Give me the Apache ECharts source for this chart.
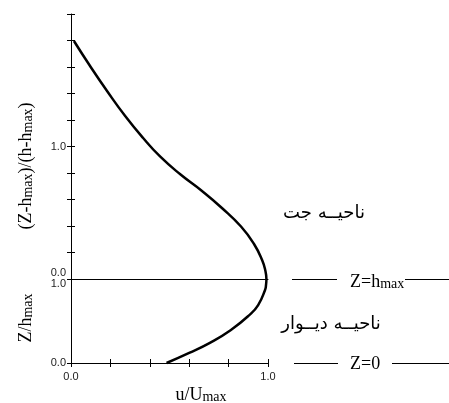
<!DOCTYPE html>
<html>
<head>
    <meta charset="UTF-8">
    <script src="https://cdn.jsdelivr.net/npm/echarts@6/dist/echarts.min.js"></script>
</head>
<body style="margin:0">
<div id="chart" style="width:449px;height:403px"></div>
<script type="text/javascript">
    // jet region (above h_max): u/Umax vs (Z-hmax)/(h-hmax)
    var jetU = [0.015, 0.096, 0.183, 0.274, 0.365, 0.452, 0.553, 0.665, 0.766, 0.863, 0.929, 0.970, 0.987, 0.992];
    var jetY = [1.796, 1.609, 1.419, 1.232, 1.066, 0.925, 0.792, 0.664, 0.536, 0.396, 0.264, 0.143, 0.060, 0];
    // wall region (below h_max): u/Umax vs Z/hmax
    var wallU = [0.992, 0.99, 0.985, 0.95, 0.905, 0.81, 0.705, 0.60, 0.485];
    var wallZ = [1.0, 0.93, 0.87, 0.69, 0.57, 0.39, 0.24, 0.12, 0];

    var jetLabel = 'ناحیــه جت';
    var wallLabel = 'ناحیــه دیــوار';

    var jetData = [], wallData = [];
    for (var i = 0; i < jetU.length; i++) jetData.push([jetU[i], jetY[i]]);
    for (var j = 0; j < wallU.length; j++) wallData.push([wallU[j], wallZ[j]]);

    var lbl = {fontFamily: 'Liberation Sans', fontSize: 11, color: '#222'};
    var serif = {fontFamily: 'Liberation Serif', fontSize: 18, fill: '#000'};
    var sub = {fontFamily: 'Liberation Serif', fontSize: 14, fill: '#000', verticalAlign: 'bottom'};
    var blackLine = {lineStyle: {color: '#000', width: 1}};

    var myChart = echarts.init(document.getElementById('chart'));
    var option = {
        animation: false,
        grid: [
            {left: 71, right: 181, top: 14, height: 265},
            {left: 71, right: 181, top: 279, height: 84}
        ],
        xAxis: [
            {gridIndex: 0, type: 'value', min: 0, max: 1, axisLine: blackLine,
                axisTick: {show: false}, axisLabel: {show: false}, splitLine: {show: false}},
            {gridIndex: 1, type: 'value', min: 0, max: 1, interval: 0.2, axisLine: blackLine,
                axisTick: {length: 4, lineStyle: {color: '#000'}},
                axisLabel: Object.assign({margin: 8, formatter: function (v) {
                    if (Math.abs(v) < 1e-6) return '0.0';
                    if (Math.abs(v - 1) < 1e-6) return '1.0';
                    return '';
                }}, lbl),
                splitLine: {show: false}},
            {gridIndex: 1, type: 'value', min: 0, max: 1, interval: 0.2, position: 'bottom',
                axisLine: {show: false}, axisTick: {inside: true, length: 4, lineStyle: {color: '#000'}},
                axisLabel: {show: false}, splitLine: {show: false}}
        ],
        yAxis: [
            {gridIndex: 0, type: 'value', min: 0, max: 2, interval: 0.2, position: 'left', offset: 0,
                axisLine: blackLine, axisTick: {length: 4, lineStyle: {color: '#000'}},
                axisLabel: Object.assign({margin: 5, formatter: function (v) {
                    if (Math.abs(v) < 1e-6) return '{up|0.0}';
                    if (Math.abs(v - 1) < 1e-6) return '1.0';
                    return '';
                }, rich: {up: {fontFamily: 'Liberation Sans', fontSize: 11, color: '#222', padding: [0, 0, 12, 0]}}}, lbl),
                splitLine: {show: false}},
            {gridIndex: 0, type: 'value', min: 0, max: 2, interval: 0.2, position: 'left', offset: 0,
                axisLine: {show: false}, axisTick: {inside: true, length: 4, lineStyle: {color: '#000'}},
                axisLabel: {show: false}, splitLine: {show: false}},
            {gridIndex: 1, type: 'value', min: 0, max: 1, interval: 1, position: 'left',
                axisLine: blackLine, axisTick: {length: 4, lineStyle: {color: '#000'}},
                axisLabel: Object.assign({margin: 5, formatter: function (v) {
                    if (Math.abs(v - 1) < 1e-6) return '{dn|1.0}';
                    return '0.0';
                }, rich: {dn: {fontFamily: 'Liberation Sans', fontSize: 11, color: '#222', padding: [10, 0, 0, 0]}}}, lbl),
                splitLine: {show: false}}
        ],
        series: [
            {type: 'line', xAxisIndex: 0, yAxisIndex: 0, data: jetData, smooth: 0.5, symbol: 'none',
                clip: false, lineStyle: {color: '#000', width: 2.5}},
            {type: 'line', xAxisIndex: 1, yAxisIndex: 2, data: wallData, smooth: 0.5, symbol: 'none',
                clip: false, lineStyle: {color: '#000', width: 2.5}}
        ],
        graphic: [
            {type: 'text', x: 26, y: 166, rotation: Math.PI / 2, style: {
                text: '{a|(Z-h}{s|max}{a|)/(h-h}{s|max}{a|)}', align: 'center', verticalAlign: 'middle',
                rich: {a: serif, s: sub}}},
            {type: 'text', x: 26, y: 318, rotation: Math.PI / 2, style: {
                text: '{a|Z/h}{s|max}', align: 'center', verticalAlign: 'middle',
                rich: {a: serif, s: sub}}},
            {type: 'text', x: 201, y: 395, style: {
                text: '{a|u/U}{s|max}', align: 'center', verticalAlign: 'middle',
                rich: {a: serif, s: sub}}},
            {type: 'text', x: 324, y: 213, style: {
                text: jetLabel, align: 'center', verticalAlign: 'middle',
                font: '18px "DejaVu Sans"', fill: '#000'}},
            {type: 'text', x: 331, y: 324, style: {
                text: wallLabel, align: 'center', verticalAlign: 'middle',
                font: '18px "DejaVu Sans"', fill: '#000'}},
            {type: 'text', x: 350, y: 282, style: {
                text: '{a|Z=h}{s|max}', align: 'left', verticalAlign: 'middle',
                rich: {a: serif, s: sub}}},
            {type: 'text', x: 350, y: 364, style: {
                text: 'Z=0', align: 'left', verticalAlign: 'middle',
                font: '18px "Liberation Serif"', fill: '#000'}},
            {type: 'line', shape: {x1: 292, y1: 279.5, x2: 337, y2: 279.5}, style: {stroke: '#000', lineWidth: 1}},
            {type: 'line', shape: {x1: 405, y1: 279.5, x2: 449, y2: 279.5}, style: {stroke: '#000', lineWidth: 1}},
            {type: 'line', shape: {x1: 294, y1: 363.5, x2: 338, y2: 363.5}, style: {stroke: '#000', lineWidth: 1}},
            {type: 'line', shape: {x1: 392, y1: 363.5, x2: 449, y2: 363.5}, style: {stroke: '#000', lineWidth: 1}}
        ]
    };
    myChart.setOption(option);
</script>
</body>
</html>
